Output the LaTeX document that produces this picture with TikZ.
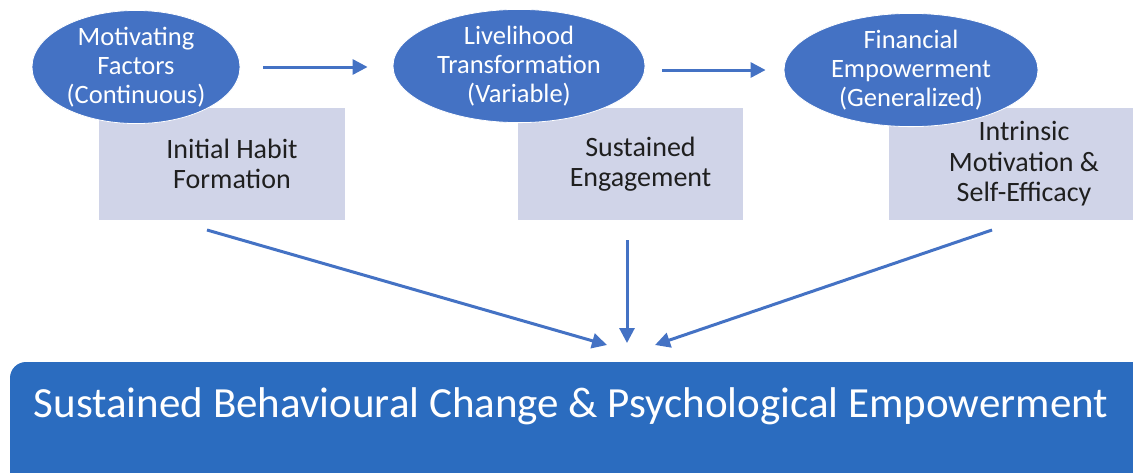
\documentclass[tikz,border=0pt]{standalone}
\usepackage{fontspec}
\setmainfont{Carlito}
\usetikzlibrary{shapes.geometric,arrows.meta}
\definecolor{stageblue}{HTML}{4472C4}
\definecolor{goalblue}{HTML}{2B6CBF}
\definecolor{boxgrey}{RGB}{208,212,232}

\begin{document}
\begin{tikzpicture}[x=1pt,y=-1pt,
	stage/.style={ellipse,fill=stageblue,draw=white,line width=0.8pt,text=white,align=center,inner sep=0pt,font=\fontsize{26.5}{29}\selectfont},
	outcome/.style={fill=boxgrey,inner sep=0pt,minimum height=112pt},
	outtext/.style={align=center,text=black!88,font=\fontsize{28}{30.5}\selectfont},
	goalbox/.style={fill=goalblue,rounded corners=16pt,inner sep=0pt},
	flow/.style={stageblue,line width=3pt,-{Triangle[length=15pt,width=15pt]}}]
	\useasboundingbox (0,0) rectangle (1133,472);

	% outcome boxes behind the stages
	\node[outcome,minimum width=246pt] (habit) at (222,164) {};
	\node[outtext] at ([xshift=10pt]habit.center) {Initial Habit\\Formation};
	\node[outcome,minimum width=225pt] (engage) at (630.5,164) {};
	\node[outtext] at ([xshift=10pt]engage.center) {Sustained\\Engagement};
	\node[outcome,minimum width=250pt] (efficacy) at (1014,164) {};
	\node[outtext] at ([xshift=10pt]efficacy.center) {Intrinsic\\Motivation \&\\Self-Efficacy};

	% stages
	\node[stage,minimum width=208pt,minimum height=106pt] (motiv) at (136,67) {Motivating\\Factors\\(Continuous)};
	\node[stage,minimum width=252pt,minimum height=108pt] (liveli) at (519,66) {Livelihood\\Transformation\\(Variable)};
	\node[stage,minimum width=254pt,minimum height=109pt] (finance) at (911,70) {Financial\\Empowerment\\(Generalized)};

	\draw[flow,shorten <=23pt,shorten >=25pt] (motiv.east) -- (motiv.east -| liveli.west);
	\draw[flow,shorten <=17pt,shorten >=18pt] (finance.west -| liveli.east) -- (finance.west);

	% goal
	\node[goalbox,minimum width=1150pt,minimum height=138pt] (goal) at (585,431) {};
	\node[anchor=base,text=white,font=\fontsize{43}{48}\selectfont] at (571,417) {Sustained Behavioural Change \& Psychological Empowerment};

	\coordinate (src 1) at (207,230);
	\coordinate (src 2) at (627,240);
	\coordinate (src 3) at (992,230);
	\coordinate (dst 1) at (607,345);
	\coordinate (dst 2) at (627,343);
	\coordinate (dst 3) at (655,345);
	\draw[flow] (src 1) -- (dst 1);
	\draw[flow] (src 2) -- (dst 2);
	\draw[flow] (src 3) -- (dst 3);
\end{tikzpicture}
\end{document}
